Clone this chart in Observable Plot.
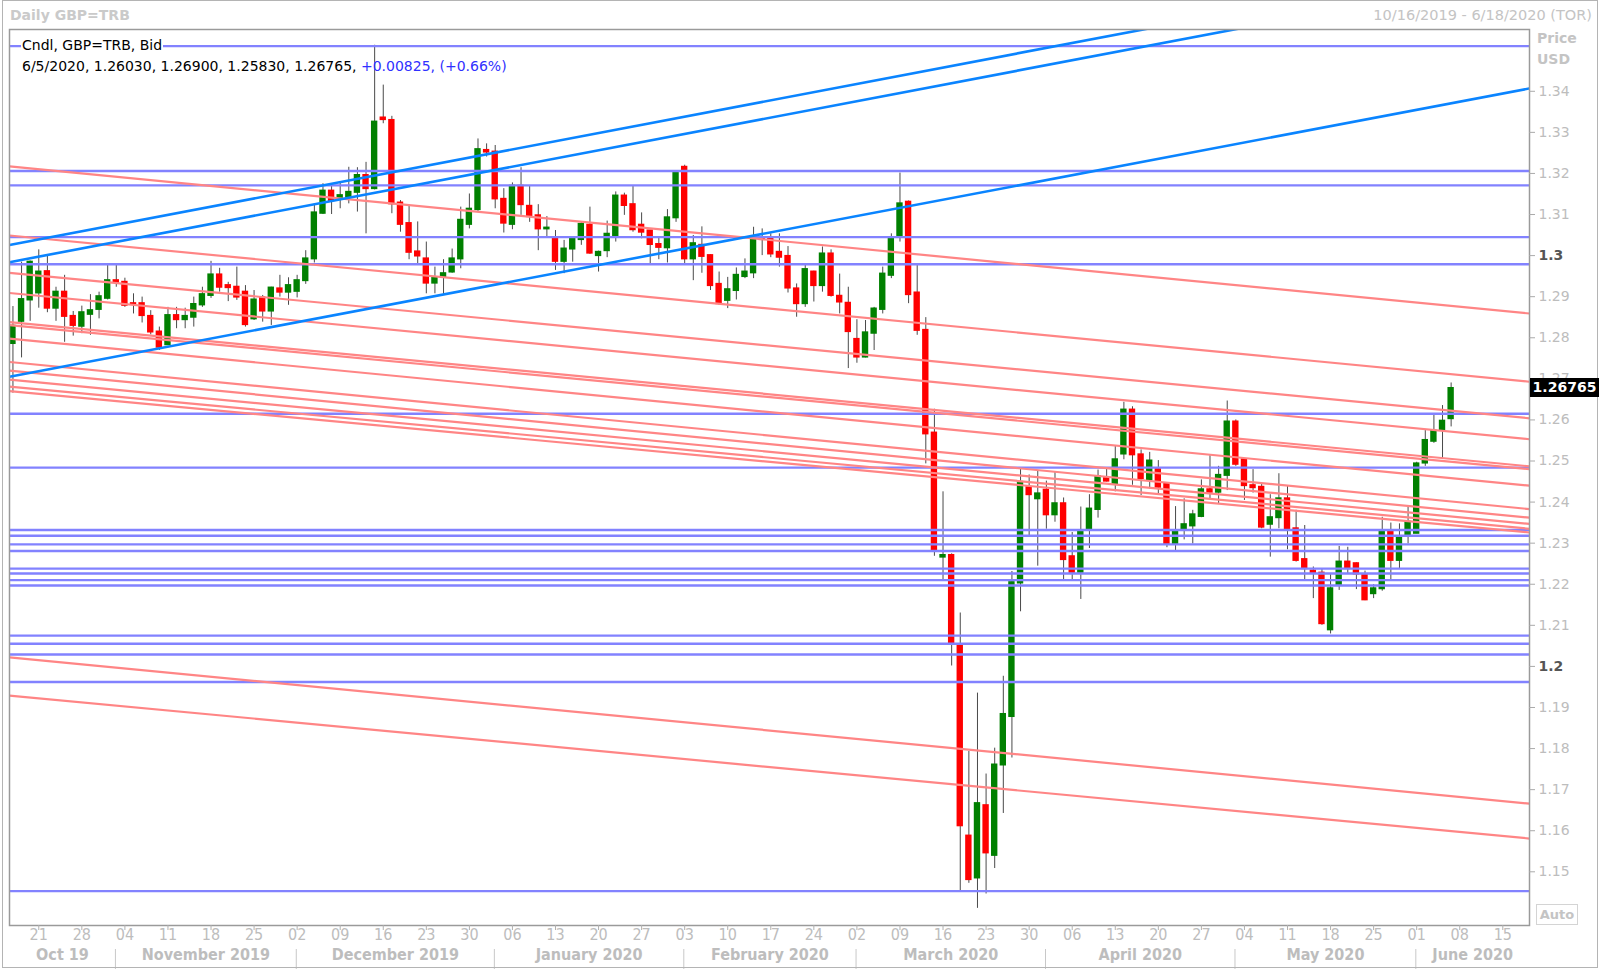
<!DOCTYPE html>
<html><head><meta charset="utf-8">
<script src="https://cdn.jsdelivr.net/npm/d3@7"></script>
<script src="https://cdn.jsdelivr.net/npm/@observablehq/plot@0.6"></script>
<style>
body{margin:0;background:#fff;}
#wrap{position:relative;width:1600px;height:972px;overflow:hidden;font-family:"DejaVu Sans",sans-serif;background:#fff;}
#wrap svg{position:absolute;left:0;top:0;}
.ov{position:absolute;white-space:nowrap;line-height:1;}
</style></head><body><div id="wrap"></div>
<script>
// ---- data: daily candles from 2019-10-16 to 2020-06-05 (weekdays) ----
const firstDay = "2019-10-16", lastAxisDay = "2020-06-18";
const opens = [1.2786,1.2840,1.2892,1.2909,1.2961,1.2872,1.2911,1.2852,1.2828,1.2857,1.2869,1.2896,1.2939,1.2935,1.2883,1.2883,1.2852,1.2814,1.2783,1.2854,1.2844,1.2850,1.2880,1.2903,1.2953,1.2927,1.2923,1.2911,1.2846,1.2897,1.2865,1.2919,1.2911,1.2913,1.2939,1.2992,1.3103,1.3157,1.3141,1.3142,1.3154,1.3195,1.3163,1.3335,1.3329,1.3128,1.3078,1.3009,1.2992,1.2933,1.2949,1.2960,1.2992,1.3076,1.3112,1.3256,1.3252,1.3137,1.3076,1.3169,1.3120,1.3097,1.3065,1.3043,1.2986,1.3016,1.3039,1.3074,1.3000,1.3012,1.3049,1.3145,1.3124,1.3074,1.3060,1.3027,1.3019,1.3092,1.3215,1.2992,1.3025,1.3000,1.2930,1.2891,1.2915,1.2949,1.2958,1.3041,1.3044,1.3008,1.2998,1.2919,1.2883,1.2960,1.2927,1.3004,1.2901,1.2884,1.2796,1.2753,1.2811,1.2869,1.2952,1.3049,1.3130,1.2909,1.2818,1.2568,1.2266,1.2270,1.2050,1.1587,1.1485,1.1661,1.1540,1.1760,1.1878,1.2203,1.2435,1.2408,1.2429,1.2369,1.2396,1.2267,1.2229,1.2333,1.2382,1.2457,1.2443,1.2517,1.2624,1.2515,1.2454,1.2479,1.2443,1.2298,1.2331,1.2342,1.2365,1.2430,1.2424,1.2465,1.2595,1.2503,1.2440,1.2436,1.2346,1.2362,1.2408,1.2335,1.2260,1.2232,1.2227,1.2089,1.2197,1.2254,1.2250,1.2221,1.2177,1.2189,1.2327,1.2258,1.2321,1.2324,1.2495,1.2548,1.2576,1.2603];
const highs = [1.2876,1.2984,1.2987,1.3014,1.2999,1.2923,1.2952,1.2864,1.2877,1.2905,1.2911,1.2976,1.2976,1.2945,1.2907,1.2899,1.2866,1.2826,1.2874,1.2874,1.2872,1.2899,1.2923,1.2986,1.2969,1.2935,1.2972,1.2927,1.2915,1.2903,1.2923,1.2952,1.2946,1.2952,1.3012,1.3126,1.3175,1.3173,1.3176,1.3215,1.3214,1.3227,1.3512,1.3415,1.3339,1.3134,1.3120,1.3082,1.3033,1.2972,1.2990,1.3016,1.3118,1.3150,1.3284,1.3272,1.3268,1.3163,1.3177,1.3214,1.3169,1.3124,1.3095,1.3061,1.3037,1.3044,1.3081,1.3118,1.3011,1.3084,1.3155,1.3152,1.3169,1.3104,1.3060,1.3045,1.3112,1.3205,1.3220,1.3049,1.3070,1.3002,1.2960,1.2947,1.2970,1.2992,1.3069,1.3065,1.3053,1.3053,1.3022,1.2931,1.2976,1.2962,1.3021,1.3014,1.2955,1.2923,1.2844,1.2842,1.2874,1.2972,1.3053,1.3201,1.3133,1.2976,1.2849,1.2626,1.2425,1.2274,1.2130,1.1793,1.1935,1.1738,1.1801,1.1976,1.2231,1.2481,1.2466,1.2476,1.2451,1.2472,1.2410,1.2326,1.2388,1.2418,1.2478,1.2481,1.2536,1.2643,1.2632,1.2527,1.2521,1.2501,1.2445,1.2389,1.2408,1.2380,1.2454,1.2513,1.2487,1.2646,1.2600,1.2503,1.2479,1.2443,1.2418,1.2469,1.2440,1.2380,1.2343,1.2242,1.2238,1.2225,1.2292,1.2290,1.2252,1.2232,1.2199,1.2363,1.2349,1.2347,1.2388,1.2497,1.2574,1.2611,1.2635,1.2690];
const lows = [1.2665,1.2751,1.2840,1.2872,1.2861,1.2840,1.2789,1.2804,1.2810,1.2806,1.2846,1.2892,1.2923,1.2874,1.2858,1.2836,1.2807,1.2769,1.2781,1.2822,1.2822,1.2826,1.2874,1.2896,1.2911,1.2888,1.2891,1.2826,1.2842,1.2838,1.2830,1.2899,1.2879,1.2897,1.2930,1.2982,1.3100,1.3100,1.3114,1.3126,1.3106,1.3053,1.3160,1.3321,1.3102,1.3057,1.2990,1.2980,1.2907,1.2907,1.2903,1.2957,1.2968,1.3065,1.3106,1.3240,1.3114,1.3055,1.3063,1.3098,1.3081,1.3012,1.3045,1.2964,1.2956,1.2984,1.3025,1.3003,1.2960,1.2995,1.3033,1.3098,1.3057,1.3041,1.2980,1.2990,1.2982,1.3081,1.2980,1.2939,1.2957,1.2915,1.2879,1.2871,1.2892,1.2944,1.2944,1.3000,1.2995,1.2972,1.2909,1.2850,1.2874,1.2887,1.2911,1.2899,1.2858,1.2725,1.2738,1.2751,1.2769,1.2858,1.2944,1.3033,1.2883,1.2806,1.2493,1.2268,1.2211,1.2001,1.1454,1.1472,1.1411,1.1446,1.1508,1.1642,1.1777,1.2133,1.2318,1.2244,1.2334,1.2351,1.2211,1.2211,1.2163,1.2287,1.2361,1.2449,1.2425,1.2503,1.2441,1.2416,1.2432,1.2420,1.2289,1.2280,1.2308,1.2298,1.2362,1.2408,1.2394,1.2428,1.2487,1.2404,1.2422,1.2335,1.2266,1.2335,1.2284,1.2254,1.2209,1.2165,1.2100,1.2079,1.2185,1.2225,1.2187,1.2160,1.2165,1.2183,1.2209,1.2238,1.2298,1.2323,1.2487,1.2543,1.2505,1.2583];
const closes = [1.2828,1.2893,1.2984,1.2960,1.2872,1.2911,1.2852,1.2830,1.2861,1.2866,1.2900,1.2939,1.2935,1.2879,1.2881,1.2854,1.2814,1.2777,1.2854,1.2844,1.2852,1.2881,1.2905,1.2953,1.2923,1.2922,1.2899,1.2832,1.2892,1.2865,1.2921,1.2911,1.2927,1.2939,1.2992,1.3104,1.3157,1.3134,1.3146,1.3154,1.3195,1.3163,1.3325,1.3331,1.3126,1.3076,1.3008,1.2999,1.2933,1.2946,1.2956,1.2992,1.3086,1.3113,1.3258,1.3252,1.3138,1.3079,1.3169,1.3124,1.3095,1.3065,1.3067,1.2986,1.3016,1.3041,1.3076,1.3006,1.3008,1.3052,1.3145,1.3122,1.3063,1.3057,1.3027,1.3020,1.3092,1.3203,1.2992,1.3029,1.2998,1.2927,1.2883,1.2917,1.2952,1.2960,1.3041,1.3039,1.3004,1.2996,1.2921,1.2883,1.2966,1.2927,1.3004,1.2903,1.2887,1.2815,1.2753,1.2812,1.2870,1.2955,1.3044,1.3126,1.2905,1.2818,1.2566,1.2281,1.2270,1.2056,1.1612,1.1481,1.1666,1.1546,1.1760,1.1883,1.2204,1.2448,1.2418,1.2420,1.2369,1.2396,1.2260,1.2229,1.2326,1.2383,1.2462,1.2451,1.2503,1.2624,1.2515,1.2457,1.2500,1.2436,1.2298,1.2327,1.2345,1.2369,1.2430,1.2424,1.2465,1.2595,1.2492,1.2440,1.2435,1.2339,1.2362,1.2408,1.2333,1.2258,1.2238,1.2227,1.2104,1.2189,1.2254,1.2238,1.2225,1.2162,1.2189,1.2327,1.2258,1.2313,1.2351,1.2493,1.2550,1.2573,1.2597,1.26765];

// horizontal support/resistance levels
const hLevels = [1.3510,1.3206,1.3171,1.3045,1.2979,1.2615,1.2484,1.2332,1.2318,1.2297,1.2281,1.2238,1.2226,1.2210,1.2197,1.2075,1.2055,1.2029,1.1962,1.1453];
// descending (red) trend lines: price at left edge and right edge of the chart
const redLeft  = [1.3217,1.3049,1.2958,1.2909,1.2838,1.2831,1.2798,1.2741,1.2720,1.2698,1.2681,1.2670,1.2022,1.1929];
const redRight = [1.2859,1.2693,1.2604,1.2553,1.2487,1.2480,1.2440,1.2383,1.2362,1.2347,1.2335,1.2326,1.1666,1.1581];
// ascending (blue) trend lines
const blueLeft  = [1.3026,1.2984,1.2705];
const blueRight = [1.3729,1.3687,1.3407];

const yTicks = [1.15,1.16,1.17,1.18,1.19,1.2,1.21,1.22,1.23,1.24,1.25,1.26,1.27,1.28,1.29,1.3,1.31,1.32,1.33,1.34];
const yTicksBold = [1.2,1.3];
const monthStarts = ["2019-11-01","2019-12-02","2020-01-02","2020-02-03","2020-03-02","2020-04-01","2020-05-01","2020-06-01"];
const monthLabels = ["Oct 19","November 2019","December 2019","January 2020","February 2020","March 2020","April 2020","May 2020","June 2020"];
const legend1 = "Cndl, GBP=TRB, Bid";
const legend2a = "6/5/2020, 1.26030, 1.26900, 1.25830, 1.26765, ";
const legend2b = "+0.00825, (+0.66%)";
const titleText = "Daily GBP=TRB";
const rangeText = "10/16/2019 - 6/18/2020 (TOR)";
const lastPrice = 1.26765;

// ---- build ----
const days = d3.utcDays(new Date(firstDay), d3.utcDay.offset(new Date(lastAxisDay), 1)).filter(d => d.getUTCDay() !== 0 && d.getUTCDay() !== 6);
const idxOf = s => days.findIndex(d => +d === +new Date(s));
const candles = opens.map((o, i) => ({i, o, h: highs[i], l: lows[i], c: closes[i]}));
const up = candles.filter(d => d.c >= d.o), down = candles.filter(d => d.c < d.o);
const X0 = -0.4, X1 = days.length - 1 + 0.1;
const mondays = days.map((d, i) => ({d, i})).filter(e => e.d.getUTCDay() === 1);
const breaks = monthStarts.map(s => idxOf(s) - 0.1);
const edges = [X0, ...breaks, X1];
const months = monthLabels.map((t, k) => ({t, x: (edges[k] + edges[k + 1]) / 2}));
const reds = redLeft.map((l, k) => ({l, r: redRight[k]}));
const blues = blueLeft.map((l, k) => ({l, r: blueRight[k]}));
const fmt = v => String(+v.toFixed(2));
const grey = "#bdbdbd";

const plot = Plot.plot({
  width: 1600, height: 972,
  marginLeft: 9, marginRight: 71, marginTop: 29, marginBottom: 47,
  x: {domain: [X0, X1], axis: null},
  y: {domain: [1.13693, 1.35504], axis: null},
  style: {background: "transparent", fontFamily: "DejaVu Sans, sans-serif"},
  marks: [
    Plot.ruleX(candles, {x: "i", y1: "l", y2: "h", stroke: "#4a4a4a", strokeWidth: 1}),
    Plot.rect(up, {x1: d => d.i - 0.37, x2: d => d.i + 0.37, y1: "o", y2: "c", fill: "#008000", insetTop: -1, insetBottom: -1}),
    Plot.rect(down, {x1: d => d.i - 0.37, x2: d => d.i + 0.37, y1: "c", y2: "o", fill: "#ff0000", insetTop: -1, insetBottom: -1}),
    Plot.ruleY(hLevels, {y: d => d, stroke: "#8282ff", strokeWidth: 2.4}),
    Plot.link(reds, {x1: () => X0, x2: () => X1, y1: "l", y2: "r", stroke: "#ff8585", strokeWidth: 2.2}),
    Plot.link(blues, {x1: () => X0, x2: () => X1, y1: "l", y2: "r", stroke: "#0a84ff", strokeWidth: 2.6, clip: true}),
    Plot.frame({stroke: "#9a9a9a", strokeWidth: 1.5}),
    // right price axis
    Plot.ruleY(yTicks, {y: d => d, stroke: "#aaaaaa", insetLeft: 1520, insetRight: -6}),
    Plot.text(yTicks.filter(v => !yTicksBold.includes(v)), {y: d => d, text: fmt, frameAnchor: "right", dx: 9, textAnchor: "start", fill: grey, fontSize: 14}),
    Plot.text(yTicksBold, {y: d => d, text: fmt, frameAnchor: "right", dx: 9, textAnchor: "start", fill: "#555555", fontSize: 14, fontWeight: "bold"}),
    // time axis
    Plot.ruleX(mondays, {x: "i", stroke: "#b0b0b0", insetTop: 896, insetBottom: -5}),
    Plot.text(mondays, {x: "i", text: e => d3.utcFormat("%d")(e.d), frameAnchor: "bottom", dy: 14, fill: grey, fontSize: 16, fontFamily: "Liberation Sans Narrow, DejaVu Sans Condensed, sans-serif"}),
    Plot.ruleX(breaks, {x: d => d, stroke: "#c8c8c8", insetTop: 920, insetBottom: -44}),
    Plot.text(months, {x: "x", text: "t", frameAnchor: "bottom", dy: 34, fill: grey, fontSize: 16, fontWeight: "bold", fontFamily: "DejaVu Sans Condensed, sans-serif"})
  ]
});
const wrap = document.getElementById("wrap");
wrap.appendChild(plot);

function ov(text, css) {
  const el = document.createElement("div");
  el.className = "ov";
  el.textContent = text;
  Object.assign(el.style, css);
  wrap.appendChild(el);
  return el;
}
// outer window border
const b = document.createElement("div");
Object.assign(b.style, {position: "absolute", left: "2px", top: "0px", width: "1596px", height: "968px", border: "1px solid #b4b4b4", boxSizing: "border-box"});
wrap.appendChild(b);

ov(titleText, {left: "10px", top: "8px", fontSize: "14px", fontWeight: "bold", color: "#cacaca"});
ov(rangeText, {right: "8px", top: "8px", fontSize: "14.5px", color: "#c4c4c4"});
ov(legend1, {left: "21px", top: "38px", fontSize: "14px", color: "#000", background: "#fff", padding: "0 1px"});
const l2 = ov(legend2a, {left: "22px", top: "59px", fontSize: "14px", color: "#000"});
const s = document.createElement("span"); s.textContent = legend2b; s.style.color = "#3030ff"; l2.appendChild(s);
ov("Price", {left: "1537px", top: "31px", fontSize: "14px", fontWeight: "bold", color: "#c4c4c4"});
ov("USD", {left: "1537px", top: "52px", fontSize: "14px", fontWeight: "bold", color: "#c4c4c4"});
const yPix = plot.scale("y").apply(lastPrice);
ov(String(lastPrice.toFixed(5)), {left: "1530px", top: (yPix - 9.5) + "px", height: "19px", width: "69px", lineHeight: "19px", background: "#000", color: "#fff", fontSize: "14px", fontWeight: "bold", textAlign: "center"});
ov("Auto", {left: "1536px", top: "904px", width: "40px", height: "19px", lineHeight: "19px", border: "1px solid #d4d4d4", color: "#c4c4c4", fontSize: "13px", fontWeight: "bold", textAlign: "center"});
</script></body></html>
